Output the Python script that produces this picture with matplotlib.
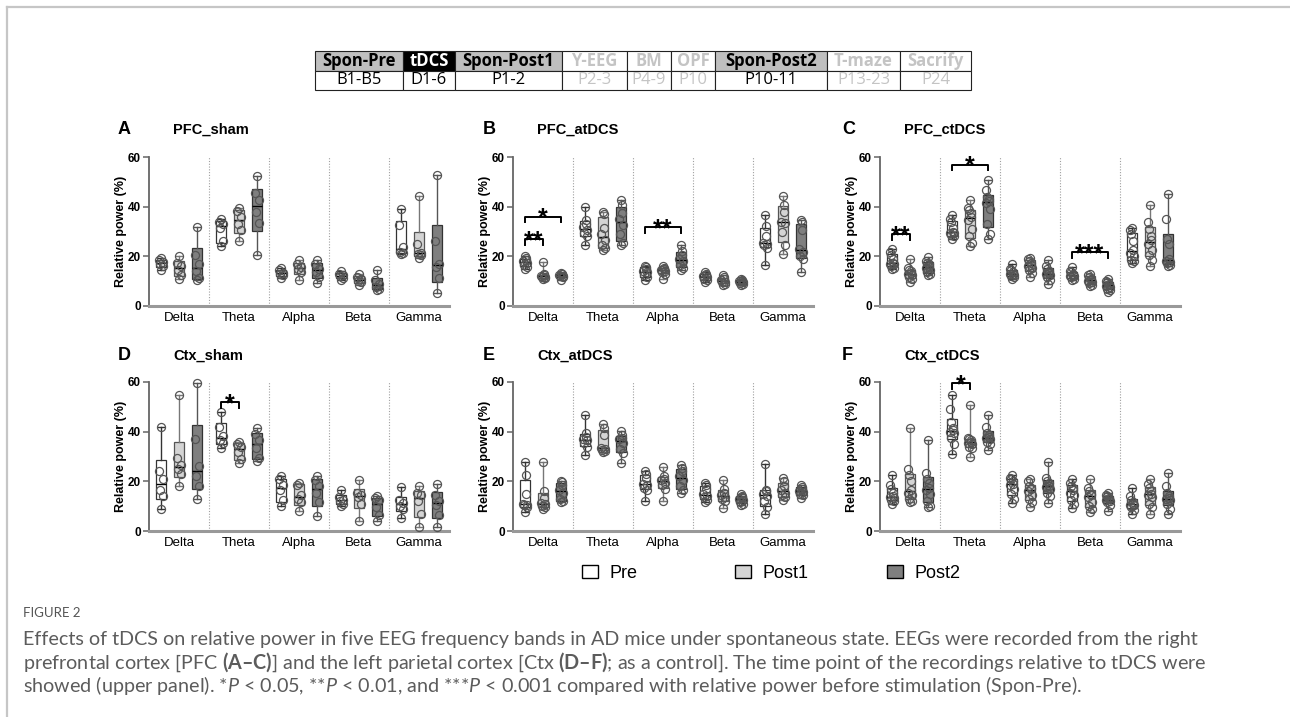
import numpy as np
import matplotlib
matplotlib.use("Agg")
import matplotlib.pyplot as plt
from matplotlib.patches import Rectangle, Patch
from matplotlib.lines import Line2D
from matplotlib.transforms import offset_copy

W, H = 1290, 717

bands = ["Delta", "Theta", "Alpha", "Beta", "Gamma"]
groups = ["Pre", "Post1", "Post2"]
group_colors = ["#ffffff", "#d4d4d4", "#7f7f7f"]

table_header = ["Spon-Pre", "tDCS", "Spon-Post1", "Y-EEG", "BM", "OPF", "Spon-Post2", "T-maze", "Sacrify"]
table_days = ["B1-B5", "D1-6", "P1-2", "P2-3", "P4-9", "P10", "P10-11", "P13-23", "P24"]
table_kind = ["rec", "stim", "rec", "other", "other", "other", "rec", "other", "other"]

titles = ["PFC_sham", "PFC_atDCS", "PFC_ctDCS", "Ctx_sham", "Ctx_atDCS", "Ctx_ctDCS"]
letters = ["A", "B", "C", "D", "E", "F"]

# ---- relative power (%) per band: Delta, Theta, Alpha, Beta, Gamma ----
pfc_sham_pre = [[14.5, 16.2, 17.0, 17.8, 18.5, 19.3],
                [24.2, 26.0, 31.5, 33.2, 34.0, 35.2],
                [11.2, 12.3, 13.0, 13.3, 14.3, 15.3],
                [10.5, 11.3, 12.0, 12.3, 13.0, 14.0],
                [21.0, 21.5, 21.8, 23.8, 32.5, 39.2]]
pfc_sham_post1 = [[10.8, 12.3, 14.5, 16.0, 17.3, 20.3],
                  [26.0, 30.5, 33.0, 36.0, 38.2, 39.5],
                  [10.3, 13.5, 15.0, 15.6, 17.0, 18.4],
                  [8.5, 9.5, 10.0, 10.8, 11.8, 13.0],
                  [19.5, 20.4, 20.8, 21.5, 25.0, 44.3]]
pfc_sham_post2 = [[10.5, 11.2, 14.0, 16.8, 20.5, 31.8],
                  [20.5, 33.5, 38.0, 42.5, 45.5, 52.3],
                  [9.4, 11.8, 13.8, 15.0, 16.8, 18.4],
                  [6.5, 7.0, 7.8, 8.8, 10.5, 14.3],
                  [5.4, 11.3, 15.8, 17.0, 26.0, 52.9]]

pfc_atdcs_pre = [[15.0, 15.8, 16.5, 17.3, 18.0, 18.5, 19.3, 20.3],
                 [24.7, 28.0, 29.5, 30.5, 31.8, 33.0, 34.5, 39.8],
                 [10.5, 11.5, 12.5, 13.5, 14.0, 15.0, 15.8, 16.2],
                 [9.5, 10.3, 11.0, 11.5, 12.0, 12.5, 13.0, 13.7],
                 [16.6, 23.5, 24.5, 25.0, 25.5, 28.0, 32.3, 36.5]]
pfc_atdcs_post1 = [[11.0, 11.3, 11.6, 11.8, 12.0, 12.3, 12.8, 17.8],
                   [22.5, 23.2, 24.5, 26.5, 29.0, 31.5, 37.2, 38.0],
                   [11.0, 13.0, 13.5, 14.2, 14.6, 15.0, 15.5, 16.3],
                   [8.5, 9.0, 9.5, 9.8, 10.3, 10.8, 11.5, 12.5],
                   [20.8, 24.5, 29.8, 33.5, 34.0, 38.0, 40.8, 44.2]]
pfc_atdcs_post2 = [[10.5, 11.5, 12.0, 12.2, 12.5, 12.8, 13.0, 13.3],
                   [24.4, 25.3, 29.0, 32.5, 35.0, 37.5, 40.8, 42.5],
                   [14.6, 15.5, 16.5, 18.0, 19.0, 20.5, 22.0, 24.7],
                   [8.5, 8.8, 9.2, 9.6, 9.9, 10.2, 10.5, 11.0],
                   [13.7, 19.0, 20.0, 21.8, 23.0, 30.5, 33.8, 34.5]]

pfc_ctdcs_pre = [[15.0, 15.5, 16.2, 16.8, 17.0, 17.5, 19.0, 20.5, 21.7, 23.0],
                 [27.0, 28.0, 28.5, 29.2, 29.5, 30.0, 31.5, 34.0, 35.2, 36.5],
                 [11.0, 11.5, 12.2, 12.6, 12.8, 13.0, 13.5, 14.3, 15.0, 17.0],
                 [10.5, 11.0, 11.5, 12.0, 12.2, 12.5, 13.0, 13.5, 14.0, 15.7],
                 [17.5, 18.0, 18.5, 20.0, 21.5, 22.5, 26.0, 29.0, 30.5, 31.4]]
pfc_ctdcs_post1 = [[9.7, 11.0, 11.5, 12.5, 12.8, 13.2, 14.0, 14.5, 15.2, 18.8],
                   [24.0, 25.5, 28.0, 31.0, 34.5, 36.0, 37.5, 38.5, 39.5, 42.5],
                   [11.8, 13.3, 14.5, 15.5, 16.2, 16.6, 17.5, 18.3, 19.0, 19.4],
                   [8.0, 8.5, 9.2, 9.8, 10.2, 10.5, 11.0, 11.8, 12.4, 13.0],
                   [16.0, 18.5, 20.5, 22.5, 25.0, 26.5, 28.0, 31.0, 34.0, 40.8]]
pfc_ctdcs_post2 = [[12.5, 12.8, 13.5, 14.5, 15.3, 16.0, 17.0, 17.5, 18.3, 19.7],
                   [27.0, 29.0, 33.0, 39.0, 41.5, 42.2, 43.0, 44.0, 46.6, 50.6],
                   [9.0, 10.5, 11.5, 12.5, 12.8, 13.3, 14.0, 15.0, 16.0, 18.4],
                   [5.8, 6.3, 7.0, 7.6, 8.2, 8.5, 9.0, 9.5, 10.0, 11.0],
                   [16.0, 16.5, 17.2, 17.8, 18.0, 18.8, 25.0, 27.0, 35.0, 45.3]]

ctx_sham_pre = [[9.0, 14.0, 16.5, 21.0, 24.3, 41.7],
                [33.3, 35.5, 36.8, 38.3, 42.0, 48.0],
                [10.0, 12.5, 16.5, 18.5, 20.8, 22.0],
                [10.0, 11.0, 12.0, 12.6, 13.5, 16.7],
                [5.3, 9.0, 10.2, 11.3, 12.5, 17.7]]
ctx_sham_post1 = [[18.0, 23.0, 25.0, 26.5, 29.3, 54.9],
                  [27.3, 29.0, 32.0, 34.0, 35.2, 36.0],
                  [8.0, 11.5, 12.8, 14.5, 18.5, 19.5],
                  [4.0, 11.0, 13.5, 14.5, 15.5, 20.4],
                  [1.6, 7.0, 12.0, 14.5, 15.5, 18.3]]
ctx_sham_post2 = [[12.9, 18.0, 22.0, 26.0, 37.0, 59.6],
                  [28.0, 29.5, 33.5, 36.5, 39.0, 41.6],
                  [6.0, 11.5, 15.5, 18.0, 20.5, 22.0],
                  [4.0, 6.5, 9.5, 12.5, 13.3, 14.0],
                  [1.6, 6.5, 10.5, 12.0, 14.5, 19.0]]

ctx_atdcs_pre = [[7.8, 9.5, 10.3, 10.6, 10.8, 14.9, 22.4, 27.7],
                 [30.8, 34.0, 35.5, 36.5, 37.0, 38.0, 39.3, 46.7],
                 [12.0, 16.5, 17.5, 18.5, 19.0, 21.5, 23.0, 24.0],
                 [11.8, 12.5, 13.5, 14.0, 15.0, 17.0, 18.5, 19.3],
                 [7.0, 9.5, 12.0, 14.0, 15.0, 16.0, 16.7, 26.9]]
ctx_atdcs_post1 = [[9.0, 9.5, 10.2, 10.8, 11.2, 13.3, 16.0, 27.7],
                   [32.0, 32.3, 32.8, 33.1, 33.5, 38.5, 41.5, 42.9],
                   [12.0, 17.0, 18.5, 19.5, 20.5, 21.0, 22.0, 25.6],
                   [9.3, 12.0, 13.0, 13.8, 14.5, 15.5, 17.0, 20.7],
                   [12.5, 13.5, 14.5, 15.5, 16.5, 18.0, 20.0, 21.3]]
ctx_atdcs_post2 = [[11.5, 12.0, 13.0, 15.5, 16.5, 18.5, 19.7, 20.0],
                   [27.3, 31.5, 33.0, 35.5, 37.0, 37.5, 38.5, 40.3],
                   [15.3, 16.5, 18.0, 20.5, 22.0, 24.0, 25.5, 26.7],
                   [10.5, 11.0, 11.8, 12.5, 13.0, 13.5, 14.2, 14.7],
                   [13.3, 14.5, 15.0, 15.8, 16.3, 17.0, 17.8, 18.5]]

ctx_ctdcs_pre = [[10.7, 12.0, 12.5, 13.3, 13.6, 14.0, 15.5, 17.0, 18.5, 22.7],
                 [31.0, 35.0, 37.5, 39.5, 40.0, 40.5, 41.5, 44.0, 49.0, 54.9],
                 [11.3, 13.0, 15.0, 16.8, 18.5, 19.0, 20.0, 20.8, 21.5, 22.7],
                 [9.3, 11.0, 12.5, 14.5, 15.5, 16.5, 17.5, 18.3, 19.3, 20.9],
                 [7.0, 8.5, 9.5, 10.3, 10.5, 11.0, 11.8, 12.5, 14.0, 17.3]]
ctx_ctdcs_post1 = [[11.8, 12.0, 13.0, 14.5, 15.5, 16.5, 20.0, 22.4, 25.0, 41.3],
                   [30.0, 33.5, 34.0, 35.0, 35.5, 36.0, 36.5, 37.0, 37.5, 50.9],
                   [9.7, 11.5, 13.0, 14.5, 16.3, 17.0, 17.5, 18.2, 20.0, 21.0],
                   [7.7, 9.0, 10.0, 11.5, 13.5, 14.5, 15.0, 16.0, 17.5, 20.9],
                   [7.0, 9.5, 11.0, 13.5, 14.5, 15.0, 16.0, 17.5, 19.0, 21.0]]
ctx_ctdcs_post2 = [[9.5, 10.2, 12.0, 15.0, 16.5, 17.5, 19.5, 21.0, 23.3, 36.7],
                   [32.7, 35.0, 36.0, 37.0, 37.3, 38.0, 38.5, 39.5, 42.0, 46.9],
                   [11.3, 14.0, 15.5, 17.0, 17.8, 18.3, 19.5, 20.0, 21.5, 27.7],
                   [8.0, 10.5, 11.5, 12.0, 12.5, 12.8, 13.3, 14.0, 14.5, 15.3],
                   [7.0, 9.0, 11.0, 12.3, 12.8, 13.2, 14.0, 15.5, 18.0, 23.3]]

# significance: (band index, group a, group b, bracket height, label)
pfc_sham_sig = []
pfc_atdcs_sig = [(0, 0, 1, 27.0, "**"), (0, 0, 2, 36.0, "*"), (2, 0, 2, 31.8, "**")]
pfc_ctdcs_sig = [(0, 0, 1, 29.0, "**"), (1, 0, 2, 56.9, "*"), (3, 0, 2, 21.7, "***")]
ctx_sham_sig = [(1, 0, 1, 52.0, "*")]
ctx_atdcs_sig = []
ctx_ctdcs_sig = [(1, 0, 1, 59.6, "*")]

caption_head = "FIGURE 2"
caption_lines = [
    "Effects of tDCS on relative power in five EEG frequency bands in AD mice under spontaneous state. EEGs were recorded from the right",
    r"prefrontal cortex [PFC $\mathbf{(A–C)}$] and the left parietal cortex [Ctx $\mathbf{(D–F)}$; as a control]. The time point of the recordings relative to tDCS were",
    r"showed (upper panel). *$\mathit{P}$ < 0.05, **$\mathit{P}$ < 0.01, and ***$\mathit{P}$ < 0.001 compared with relative power before stimulation (Spon-Pre).",
]

# ------------------------------------------------------------------
plt.rcParams['font.family'] = ['Liberation Sans', 'DejaVu Sans']
plt.rcParams['mathtext.fontset'] = 'custom'
plt.rcParams['mathtext.rm'] = 'Lato'
plt.rcParams['mathtext.it'] = 'Lato:italic'
plt.rcParams['mathtext.bf'] = 'Lato:bold'

fig = plt.figure(figsize=(W / 100, H / 100), dpi=100)


def fx(x):
    return x / W


def fy(y):
    return 1 - y / H


# page frame
fig.add_artist(Line2D([fx(7), 1], [fy(7), fy(7)], color='#c6c6c6', lw=1.6))
fig.add_artist(Line2D([fx(7), fx(7)], [fy(7), 0], color='#c6c6c6', lw=1.6))

# timeline table
col_w = [88, 52, 107, 65, 44, 44, 112, 73, 71]
tx = 315
row_edges = [51, 71, 90]
for name, day, kind, w in zip(table_header, table_days, table_kind, col_w):
    fill = {"rec": "#bfbfbf", "stim": "#000000", "other": "#ffffff"}[kind]
    hcol = {"rec": "#000000", "stim": "#ffffff", "other": "#c4c4c4"}[kind]
    dcol = "#000000" if kind != "other" else "#c4c4c4"
    fig.add_artist(Rectangle((fx(tx), fy(row_edges[1])), w / W, (row_edges[1] - row_edges[0]) / H,
                             transform=fig.transFigure, facecolor=fill, edgecolor='#222', lw=0.8))
    fig.add_artist(Rectangle((fx(tx), fy(row_edges[2])), w / W, (row_edges[2] - row_edges[1]) / H,
                             transform=fig.transFigure, facecolor='white', edgecolor='#222', lw=0.8))
    fig.text(fx(tx + w / 2), fy((row_edges[0] + row_edges[1]) / 2 - 0.5), name, ha='center',
             va='center', fontsize=12, fontweight='bold', family='Open Sans', color=hcol)
    fig.text(fx(tx + w / 2), fy((row_edges[1] + row_edges[2]) / 2 - 0.5), day, ha='center',
             va='center', fontsize=12, family='Open Sans', color=dcol)
    tx += w

# panels
panels = [
    (pfc_sham_pre, pfc_sham_post1, pfc_sham_post2, pfc_sham_sig),
    (pfc_atdcs_pre, pfc_atdcs_post1, pfc_atdcs_post2, pfc_atdcs_sig),
    (pfc_ctdcs_pre, pfc_ctdcs_post1, pfc_ctdcs_post2, pfc_ctdcs_sig),
    (ctx_sham_pre, ctx_sham_post1, ctx_sham_post2, ctx_sham_sig),
    (ctx_atdcs_pre, ctx_atdcs_post1, ctx_atdcs_post2, ctx_atdcs_sig),
    (ctx_ctdcs_pre, ctx_ctdcs_post1, ctx_ctdcs_post2, ctx_ctdcs_sig),
]
axes_left = [149, 513, 880]
letter_x = [118, 483, 842]
axes_top = [157, 382]
title_y = [129, 355]
ax_w, ax_h = 300, 149
group_off = [0.2, 0.5, 0.8]
edge_cols = ["#333333", "#555555", "#333333"]
whisk_cols = ["#333333", "#777777", "#555555"]
jit = [-0.035, 0.03, -0.01, 0.04, -0.03, 0.012, 0.022, -0.02]

for i, (pre, post1, post2, sig) in enumerate(panels):
    r, c = divmod(i, 3)
    left, top = axes_left[c], axes_top[r]
    ax = fig.add_axes([fx(left), fy(top + ax_h), ax_w / W, ax_h / H])
    ax.set_xlim(0, 5)
    ax.set_ylim(0, 60)
    for k in range(1, 5):
        ax.axvline(k, color='#a0a0a0', ls=(0, (1, 1.5)), lw=0.8, zorder=0)
    for g, gdata in enumerate([pre, post1, post2]):
        stats = []
        for d in gdata:
            q1, med, q3 = np.percentile(d, [25, 50, 75], method='weibull')
            stats.append(dict(med=med, q1=q1, q3=q3, whislo=min(d), whishi=max(d), fliers=[]))
        pos = [b + group_off[g] for b in range(len(bands))]
        ax.bxp(stats, positions=pos, widths=0.18, capwidths=0.11, patch_artist=True,
               showfliers=False, manage_ticks=False,
               boxprops=dict(facecolor=group_colors[g], edgecolor=edge_cols[g], lw=0.9),
               medianprops=dict(color='black', lw=1.0),
               whiskerprops=dict(color=whisk_cols[g], lw=1.0),
               capprops=dict(color=whisk_cols[g], lw=1.0), zorder=2)
        for b, d in enumerate(gdata):
            ds = np.sort(d)
            n = len(ds)
            offs = np.array([0.0 if (j == 0 or j == n - 1) else jit[j % len(jit)] for j in range(n)])
            ax.plot(pos[b] + offs, ds, 'o', ms=5.8, mfc='none', mec='#555555', mew=0.9,
                    zorder=3, clip_on=False)
    # significance brackets
    for (b, ga, gb, yb, lab) in sig:
        x1, x2 = b + group_off[ga], b + group_off[gb]
        ax.plot([x1, x1, x2, x2], [yb - 2.3, yb, yb, yb - 2.3], color='black', lw=1.4,
                clip_on=False, zorder=4)
        fs = 18
        tr = offset_copy(ax.transData, fig=fig, y=-0.36 * fs, units='points')
        ax.text((x1 + x2) / 2, yb, lab, transform=tr, ha='center', va='baseline',
                fontsize=fs, fontweight='bold', clip_on=False)
    # axes styling
    for s in ['top', 'right']:
        ax.spines[s].set_visible(False)
    ax.spines['left'].set_color('#666666')
    ax.spines['left'].set_linewidth(1.3)
    ax.spines['bottom'].set_color('#999999')
    ax.spines['bottom'].set_linewidth(2.2)
    ax.set_yticks([0, 20, 40, 60])
    ax.set_xticks([b + 0.5 for b in range(len(bands))])
    ax.set_xticklabels(bands, fontsize=9.5)
    ax.tick_params(axis='x', length=0, pad=4)
    ax.tick_params(axis='y', length=4, width=1.1, color='#666666', pad=2, labelsize=8.5)
    for lbl in ax.get_yticklabels():
        lbl.set_fontweight('bold')
    ax.set_ylabel("Relative power (%)", fontsize=9, fontweight='bold', va='center')
    ax.yaxis.set_label_coords(-28 / ax_w, 0.5)
    # panel letter and title
    fig.text(fx(letter_x[c]), fy(title_y[r]), letters[i], fontsize=13, fontweight='bold',
             va='center', ha='left')
    fig.text(fx(left + 24), fy(title_y[r] + 1), titles[i], fontsize=10.5, fontweight='bold',
             va='center', ha='left')

# legend
leg_x = [582, 735, 887]
for g in range(3):
    lg = fig.legend(handles=[Patch(facecolor=group_colors[g], edgecolor='black', lw=1.0)],
                    labels=[groups[g]], loc='center left',
                    bbox_to_anchor=(fx(leg_x[g]), fy(573)), frameon=False, fontsize=13,
                    handlelength=0.9, handleheight=0.75, handletextpad=0.65,
                    borderpad=0, borderaxespad=0)

# caption
fig.text(fx(23), fy(613), caption_head, fontsize=9.5, color='#555555', family='Lato',
         va='center', ha='left')
renderer = fig.canvas.get_renderer()
probe = fig.text(0, 0, caption_lines[0], fontsize=12, family='Lato')
wid = probe.get_window_extent(renderer).width
probe.remove()
csize = 12 * 1175 / wid
for yline, txt in zip([638, 662, 685], caption_lines):
    fig.text(fx(23), fy(yline + 0.36 * csize * 100 / 72), txt, fontsize=csize, family='Lato',
             color='#5c5c5c', va='baseline', ha='left')

fig.savefig("out.png", dpi=100)
